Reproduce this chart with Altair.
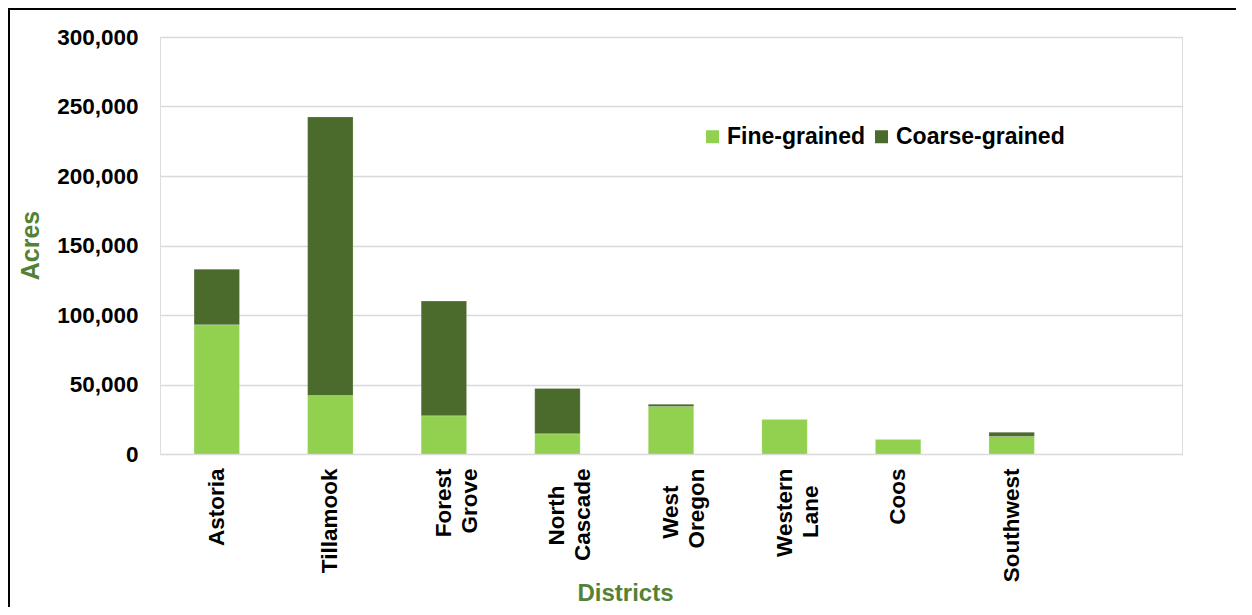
import altair as alt
import pandas as pd

districts = ["Astoria", "Tillamook", "Forest Grove", "North Cascade", "West Oregon",
             "Western Lane", "Coos", "Southwest"]
fine = [93000, 42000, 27500, 14500, 34200, 25000, 10600, 12600]
coarse = [40000, 200500, 82500, 32700, 1600, 0, 0, 3000]
series = ["Fine-grained", "Coarse-grained"]
colors = ["#92D050", "#4A6B2C"]
y_ticks = [0, 50000, 100000, 150000, 200000, 250000, 300000]

rows = []
for d, f, c in zip(districts, fine, coarse):
    rows.append({"District": d, "Type": series[0], "Acres": f, "ord": 0})
    rows.append({"District": d, "Type": series[1], "Acres": c, "ord": 1})
df = pd.DataFrame(rows)

x_domain = districts + ["_"]
FONT = "Liberation Sans"
TITLE_GREEN = "#548235"

# Approximate bold sans advance widths (em) to centre the shorter line of a
# two-line label within the block, as the reference does.
_W = {"A": .722, "C": .722, "F": .611, "G": .778, "L": .611, "N": .722, "O": .778,
      "W": .944, "a": .556, "c": .556, "d": .611, "e": .556, "g": .611, "h": .611,
      "n": .611, "o": .611, "r": .389, "s": .556, "t": .333, "v": .556}
BLANK = "\u2800"   # blank glyph that is not stripped as whitespace
BLANK_W = 0.60


def _width(s):
    return sum(_W.get(ch, .556) for ch in s)


def _lines(label):
    parts = label.split(" ")
    if len(parts) < 2:
        return None
    longest = max(_width(p) for p in parts)
    out = []
    for p in parts:
        n = int(round((longest - _width(p)) / 2 / BLANK_W))
        out.append(p + BLANK * n)
    return out


expr = "''"
for d in reversed(districts):
    ls = _lines(d)
    val = "[" + ",".join("'" + x + "'" for x in ls) + "]" if ls else "'" + d + "'"
    expr = "datum.value == '" + d + "' ? " + val + " : " + expr

bars = alt.Chart(df).mark_bar(stroke="#ffffff", strokeWidth=0.4, strokeOpacity=0.5).encode(
    x=alt.X("District:N", scale=alt.Scale(domain=x_domain, paddingInner=0.6, paddingOuter=0.3),
            axis=alt.Axis(title="Districts", labelAngle=-90, labelAlign="right",
                          labelBaseline="middle", labelPadding=14, ticks=False, domain=False,
                          labelExpr=expr,
                          labelFont=FONT, labelFontSize=22.5, labelFontWeight="bold",
                          labelColor="#000000", labelLineHeight=26,
                          titleFont=FONT, titleFontSize=24, titleFontWeight="bold",
                          titleColor=TITLE_GREEN, titleX=465, titleY=146,
                          titleAnchor="middle", titleBaseline="alphabetic")),
    y=alt.Y("Acres:Q", stack="zero", scale=alt.Scale(domain=[0, 300000], nice=False),
            axis=alt.Axis(title="Acres", values=y_ticks, format=",.0f", ticks=False, domain=False,
                          labelPadding=22, labelFont=FONT, labelFontSize=22.5,
                          labelFontWeight="bold", labelColor="#000000",
                          gridColor="#d9d9d9", gridWidth=1.5,
                          titleFont=FONT, titleFontSize=25, titleFontWeight="bold",
                          titleColor=TITLE_GREEN, titleAngle=-90, titleX=-130, titleY=208,
                          titleAlign="center", titleBaseline="middle")),
    color=alt.Color("Type:N", scale=alt.Scale(domain=series, range=colors),
                    legend=alt.Legend(title=None, orient="none", direction="horizontal",
                                      legendX=541, legendY=88, symbolType="square",
                                      symbolSize=169, symbolStrokeWidth=0,
                                      labelFont=FONT, labelFontSize=23, labelFontWeight="bold",
                                      labelColor="#000000", columnPadding=4, labelOffset=3,
                                      labelLimit=0, padding=0)),
    order=alt.Order("ord:Q"),
)

border = alt.Chart(alt.Data(values=[{"a": 1}])).mark_rect(
    fill=None, stroke="#000000", strokeWidth=2, clip=False
).encode(
    x=alt.value(-151), x2=alt.value(1200), y=alt.value(-28), y2=alt.value(700)
)

chart = alt.layer(bars, border).properties(
    width=1022, height=417,
    autosize=alt.AutoSizeParams(type="none"),
    padding={"left": 152, "top": 29, "right": 54, "bottom": 153},
).configure_view(stroke=None).configure(font=FONT)

chart.save("out.html", embed_options={"renderer": "svg", "actions": False})
